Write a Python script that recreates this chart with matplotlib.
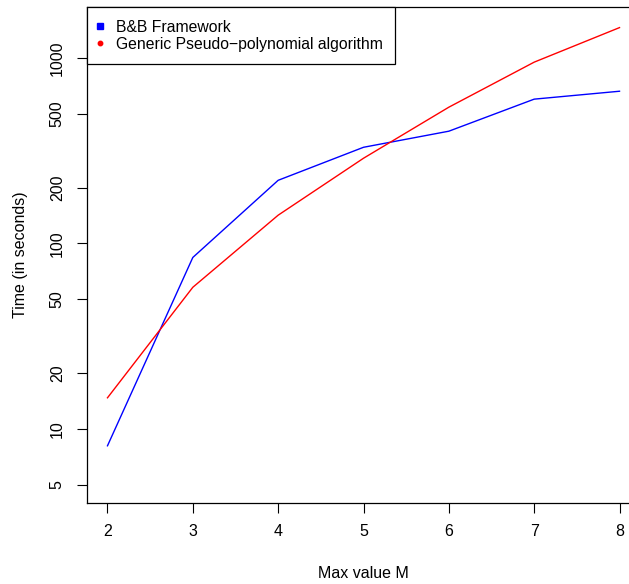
import matplotlib
matplotlib.use('Agg')
import matplotlib.pyplot as plt
from matplotlib.lines import Line2D
import numpy as np

plt.rcParams['font.family'] = ['Liberation Sans', 'DejaVu Sans']
plt.rcParams['font.size'] = 11.5

max_m = [2, 3, 4, 5, 6, 7, 8]
bb_time = [8.1, 84, 219, 330, 403, 600, 662]
pseudo_time = [14.7, 58, 142, 288, 543, 950, 1459]

y_ticks = [5, 10, 20, 50, 100, 200, 500, 1000]
labels = ['B&B Framework', 'Generic Pseudo\u2212polynomial algorithm']

W, H = 629, 584
fig = plt.figure(figsize=(W / 100, H / 100), dpi=100)
# plot box runs past the right edge of the image, like the cropped original
ax = fig.add_axes([87 / W, 1 - 503 / H, (640 - 87) / W, (503 - 7) / H])

ax.plot(max_m, bb_time, color='blue', lw=1)
ax.plot(max_m, pseudo_time, color='red', lw=1)

ax.set_yscale('log')
lo, hi = np.log10(5), np.log10(1500)
ext = 0.04 * (hi - lo)
ax.set_ylim(10 ** (lo - ext), 10 ** (hi + ext))
ax.set_xlim(2 - 0.24, 8 + 0.24)

ax.set_yticks(y_ticks)
ax.set_yticklabels([str(t) for t in y_ticks], rotation=90, va='center')
ax.yaxis.set_minor_locator(matplotlib.ticker.NullLocator())
ax.set_xticks(max_m)
ax.tick_params(length=7, width=0.8, labelsize=11.5)
ax.tick_params(axis='x', pad=8)
ax.tick_params(axis='y', pad=9)

for s in ax.spines.values():
    s.set_linewidth(0.9)

fig.text(363 / W, 1 - 573 / H, 'Max value M', ha='center', va='center', fontsize=11.5)
fig.text(21 / W, 1 - 255 / H, 'Time (in seconds)', ha='center', va='center',
         rotation=90, fontsize=11.5)

handles = [Line2D([], [], ls='none', marker='s', color='blue', markersize=5),
           Line2D([], [], ls='none', marker='o', color='red', markersize=3.2)]
leg = ax.legend(handles, labels, loc='upper left', bbox_to_anchor=(0, 1),
                borderaxespad=0, fancybox=False, framealpha=1, edgecolor='black',
                handlelength=0, handletextpad=1.05, borderpad=0.8, labelspacing=0.15,
                fontsize=11.3)
leg.get_frame().set_linewidth(0.9)

fig.savefig('out.png', dpi=100)
